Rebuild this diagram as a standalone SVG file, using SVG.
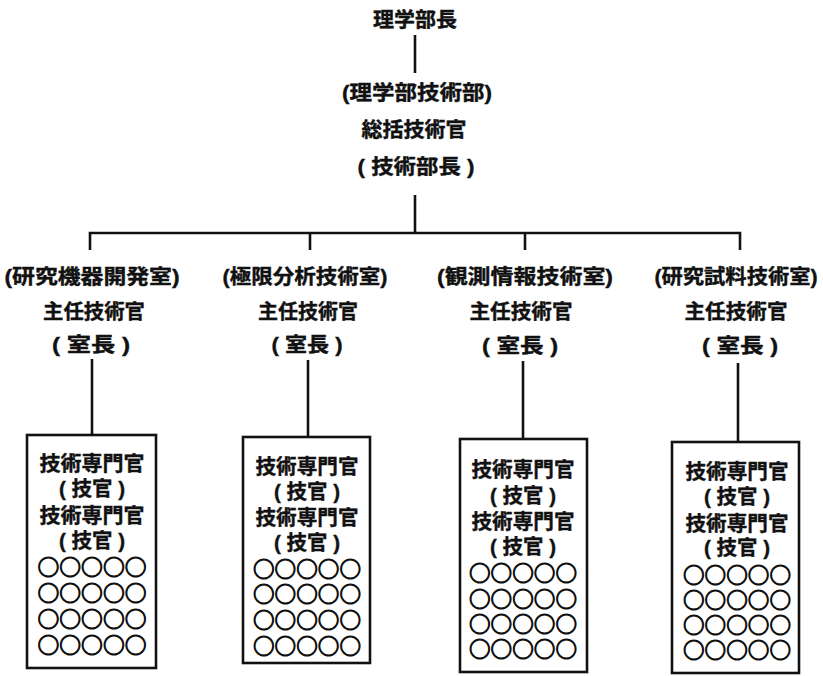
<svg xmlns="http://www.w3.org/2000/svg" width="823" height="676" viewBox="0 0 823 676">
<style>
text{font-family:"Liberation Sans","Noto Sans CJK JP","Noto Sans CJK SC",sans-serif;font-weight:700;font-size:20px;fill:#111;stroke:#111;stroke-width:0.4;text-anchor:middle;dominant-baseline:central}
.c{font-family:"Roboto","Noto Sans CJK JP",sans-serif;font-size:22px;stroke-width:1}
.ln{stroke:#111;stroke-width:2.6;fill:none}
.box{stroke:#111;stroke-width:2.6;fill:#fff}
</style>
<rect width="823" height="676" fill="#fff"/>
<g id="connectors">
<path class="ln" d="M415 35V73"/>
<path class="ln" d="M415 195V233"/>
<path class="ln" d="M90 250V233H740V250"/>
<path class="ln" d="M310 233V250"/>
<path class="ln" d="M525 233V250"/>
<path class="ln" d="M92 359V435"/>
<path class="ln" d="M308 360V437"/>
<path class="ln" d="M523 361V439"/>
<path class="ln" d="M738 363V442"/>
</g>
<g id="dean">
<text x="415" y="20" font-size="21" textLength="84" lengthAdjust="spacingAndGlyphs">理学部長</text>
</g>
<g id="tech-dept">
<text x="417" y="93" textLength="150" lengthAdjust="spacingAndGlyphs">(理学部技術部)</text>
<text x="414" y="130" textLength="105" lengthAdjust="spacingAndGlyphs">総括技術官</text>
<text x="416" y="167" textLength="117" lengthAdjust="spacingAndGlyphs">( 技術部長 )</text>
</g>
<g id="room1">
<text x="92" y="277" textLength="175" lengthAdjust="spacingAndGlyphs">(研究機器開発室)</text>
<text x="94" y="312" textLength="102" lengthAdjust="spacingAndGlyphs">主任技術官</text>
<text x="91" y="345" textLength="78" lengthAdjust="spacingAndGlyphs">( 室長 )</text>
</g>
<g id="room2">
<text x="305" y="277" textLength="165" lengthAdjust="spacingAndGlyphs">(極限分析技術室)</text>
<text x="308" y="312" textLength="100" lengthAdjust="spacingAndGlyphs">主任技術官</text>
<text x="307" y="345" textLength="71" lengthAdjust="spacingAndGlyphs">( 室長 )</text>
</g>
<g id="room3">
<text x="525" y="277" textLength="176" lengthAdjust="spacingAndGlyphs">(観測情報技術室)</text>
<text x="521" y="312" textLength="103" lengthAdjust="spacingAndGlyphs">主任技術官</text>
<text x="520" y="346" textLength="76" lengthAdjust="spacingAndGlyphs">( 室長 )</text>
</g>
<g id="room4">
<text x="736" y="277" textLength="163" lengthAdjust="spacingAndGlyphs">(研究試料技術室)</text>
<text x="736" y="312" textLength="103" lengthAdjust="spacingAndGlyphs">主任技術官</text>
<text x="740" y="346" textLength="76" lengthAdjust="spacingAndGlyphs">( 室長 )</text>
</g>
<g id="staff1">
<rect class="box" x="27" y="435" width="129" height="233"/>
<text x="92" y="464" textLength="105" lengthAdjust="spacingAndGlyphs">技術専門官</text>
<text x="92" y="489" textLength="66" lengthAdjust="spacingAndGlyphs">( 技官 )</text>
<text x="92" y="516" textLength="105" lengthAdjust="spacingAndGlyphs">技術専門官</text>
<text x="92" y="541" textLength="66" lengthAdjust="spacingAndGlyphs">( 技官 )</text>
<text class="c" x="92" y="567" textLength="109" lengthAdjust="spacingAndGlyphs">○○○○○</text>
<text class="c" x="92" y="593" textLength="109" lengthAdjust="spacingAndGlyphs">○○○○○</text>
<text class="c" x="92" y="619" textLength="109" lengthAdjust="spacingAndGlyphs">○○○○○</text>
<text class="c" x="92" y="645" textLength="109" lengthAdjust="spacingAndGlyphs">○○○○○</text>
</g>
<g id="staff2">
<rect class="box" x="243" y="437" width="127" height="226"/>
<text x="307" y="467" textLength="103" lengthAdjust="spacingAndGlyphs">技術専門官</text>
<text x="307" y="492" textLength="66" lengthAdjust="spacingAndGlyphs">( 技官 )</text>
<text x="307" y="518" textLength="103" lengthAdjust="spacingAndGlyphs">技術専門官</text>
<text x="307" y="543" textLength="66" lengthAdjust="spacingAndGlyphs">( 技官 )</text>
<text class="c" x="307" y="569" textLength="108" lengthAdjust="spacingAndGlyphs">○○○○○</text>
<text class="c" x="307" y="594" textLength="108" lengthAdjust="spacingAndGlyphs">○○○○○</text>
<text class="c" x="307" y="620" textLength="108" lengthAdjust="spacingAndGlyphs">○○○○○</text>
<text class="c" x="307" y="646" textLength="108" lengthAdjust="spacingAndGlyphs">○○○○○</text>
</g>
<g id="staff3">
<rect class="box" x="460" y="439" width="127" height="233"/>
<text x="523" y="470" textLength="103" lengthAdjust="spacingAndGlyphs">技術専門官</text>
<text x="523" y="496" textLength="66" lengthAdjust="spacingAndGlyphs">( 技官 )</text>
<text x="523" y="522" textLength="103" lengthAdjust="spacingAndGlyphs">技術専門官</text>
<text x="523" y="547" textLength="66" lengthAdjust="spacingAndGlyphs">( 技官 )</text>
<text class="c" x="523" y="573" textLength="108" lengthAdjust="spacingAndGlyphs">○○○○○</text>
<text class="c" x="523" y="599" textLength="108" lengthAdjust="spacingAndGlyphs">○○○○○</text>
<text class="c" x="523" y="624" textLength="108" lengthAdjust="spacingAndGlyphs">○○○○○</text>
<text class="c" x="523" y="649" textLength="108" lengthAdjust="spacingAndGlyphs">○○○○○</text>
</g>
<g id="staff4">
<rect class="box" x="672" y="442" width="127" height="231"/>
<text x="737" y="472" textLength="103" lengthAdjust="spacingAndGlyphs">技術専門官</text>
<text x="737" y="497" textLength="66" lengthAdjust="spacingAndGlyphs">( 技官 )</text>
<text x="737" y="524" textLength="103" lengthAdjust="spacingAndGlyphs">技術専門官</text>
<text x="737" y="548" textLength="66" lengthAdjust="spacingAndGlyphs">( 技官 )</text>
<text class="c" x="737" y="575" textLength="108" lengthAdjust="spacingAndGlyphs">○○○○○</text>
<text class="c" x="737" y="600" textLength="108" lengthAdjust="spacingAndGlyphs">○○○○○</text>
<text class="c" x="737" y="625" textLength="108" lengthAdjust="spacingAndGlyphs">○○○○○</text>
<text class="c" x="737" y="650" textLength="108" lengthAdjust="spacingAndGlyphs">○○○○○</text>
</g>
</svg>
